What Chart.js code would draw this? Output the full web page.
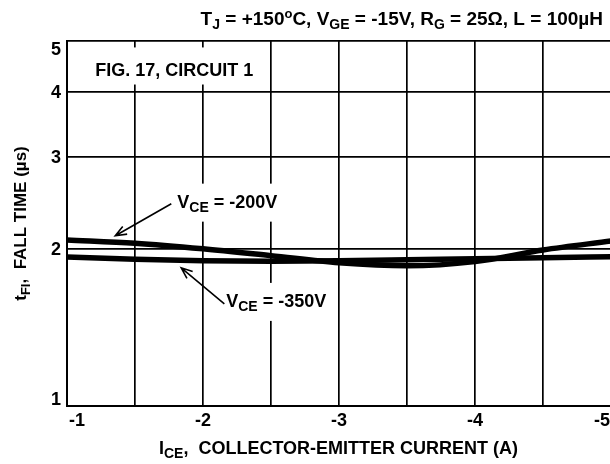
<!DOCTYPE html>
<html>
<head>
<meta charset="utf-8">
<script src="https://cdn.jsdelivr.net/npm/chart.js@4.4.0/dist/chart.umd.min.js"></script>
<style>
  html, body { margin: 0; padding: 0; background: #fff; overflow: hidden; }
  .wrap { position: relative; width: 614px; height: 464px; }
</style>
</head>
<body>
<div class="wrap"><canvas class="js-chart" width="614" height="464"></canvas></div>
<script>
const ctx = document.querySelector(".js-chart").getContext("2d");
const FONT = '"Liberation Sans", Arial, sans-serif';

// collector-emitter current (A) and fall time (us)
const currents = [-1, -1.5, -2, -2.5, -3, -3.5, -4, -4.5, -5];
const fallTime200V = [2.08, 2.05, 2.0, 1.94, 1.88, 1.855, 1.89, 1.99, 2.07];
const fallTime350V = [1.93, 1.91, 1.897, 1.893, 1.897, 1.905, 1.914, 1.922, 1.931];
const xTickValues = [-1, -2, -3, -4, -5];
const yTickValues = [1, 2, 3, 4, 5];

// annotation anchors, in data units
const figNote = { x: -1.208, y: 4.28, boxX: [-1.157, -2.436], boxY: [4.86, 4.127] };
const note200 = { x: -1.811, y: 2.398, tail: [-1.767, 2.44], tip: [-1.355, 2.118] };
const note350 = { x: -2.171, y: 1.548, tail: [-2.157, 1.569], tip: [-1.84, 1.839] };

function toPoints(values) {
  return currents.map((c, i) => ({ x: c, y: values[i] }));
}

// text made of pieces with their own size / baseline shift
function richWidth(c, parts) {
  let w = 0;
  parts.forEach((p) => {
    c.font = "bold " + p.s + "px " + FONT;
    w += c.measureText(p.t).width;
  });
  return w;
}

function drawRich(c, parts, x, y, align) {
  let cx = align === "right" ? x - richWidth(c, parts) : align === "center" ? x - richWidth(c, parts) / 2 : x;
  c.textAlign = "left";
  c.textBaseline = "alphabetic";
  parts.forEach((p) => {
    c.font = "bold " + p.s + "px " + FONT;
    c.fillText(p.t, cx, y + (p.dy || 0));
    cx += c.measureText(p.t).width;
  });
}

function arrow(c, x1, y1, x2, y2) {
  const a = Math.atan2(y2 - y1, x2 - x1);
  const len = 12;
  c.beginPath();
  c.moveTo(x1, y1);
  c.lineTo(x2, y2);
  c.moveTo(x2 - len * Math.cos(a - 0.38), y2 - len * Math.sin(a - 0.38));
  c.lineTo(x2, y2);
  c.lineTo(x2 - len * Math.cos(a + 0.38), y2 - len * Math.sin(a + 0.38));
  c.stroke();
}

const textPlugin = {
  id: "figText",
  afterDatasetsDraw(chart) {
    const c = chart.ctx;
    const { x, y } = chart.scales;
    c.save();

    // white boxes behind the notes cut the grid
    c.fillStyle = "#fff";
    c.fillRect(
      x.getPixelForValue(figNote.boxX[0]),
      y.getPixelForValue(figNote.boxY[0]),
      x.getPixelForValue(figNote.boxX[1]) - x.getPixelForValue(figNote.boxX[0]),
      y.getPixelForValue(figNote.boxY[1]) - y.getPixelForValue(figNote.boxY[0])
    );
    const parts200 = [{ t: "V", s: 18 }, { t: "CE", s: 14, dy: 4 }, { t: " = -200V", s: 18 }];
    const parts350 = [{ t: "V", s: 18 }, { t: "CE", s: 14, dy: 4 }, { t: " = -350V", s: 18 }];
    [[note200, parts200], [note350, parts350]].forEach(([n, parts]) => {
      const px = x.getPixelForValue(n.x);
      const py = y.getPixelForValue(n.y);
      const w = richWidth(c, parts);
      c.fillStyle = "#fff";
      c.fillRect(px - 8, py - 24, w + 16, 38);
    });

    c.fillStyle = "#000";
    c.strokeStyle = "#000";
    c.font = "bold 18px " + FONT;
    c.textAlign = "left";
    c.textBaseline = "alphabetic";
    c.fillText("FIG. 17, CIRCUIT 1", x.getPixelForValue(figNote.x), y.getPixelForValue(figNote.y));

    drawRich(c, parts200, x.getPixelForValue(note200.x), y.getPixelForValue(note200.y), "left");
    drawRich(c, parts350, x.getPixelForValue(note350.x), y.getPixelForValue(note350.y), "left");

    c.lineWidth = 1.6;
    [note200, note350].forEach((n) => {
      arrow(
        c,
        x.getPixelForValue(n.tail[0]), y.getPixelForValue(n.tail[1]),
        x.getPixelForValue(n.tip[0]), y.getPixelForValue(n.tip[1])
      );
    });

    // y tick labels
    c.font = "bold 18px " + FONT;
    c.textAlign = "right";
    c.textBaseline = "middle";
    yTickValues.forEach((v, i) => {
      let py = y.getPixelForValue(v);
      if (i === yTickValues.length - 1) py += 8;
      if (i === 0) py -= 7;
      c.fillText(String(v), x.left - 6, py + 1);
    });

    // x tick labels
    c.textBaseline = "alphabetic";
    xTickValues.forEach((v, i) => {
      const px = x.getPixelForValue(v);
      if (i === 0) {
        c.textAlign = "left";
        c.fillText(String(v), px + 2, y.bottom + 20);
      } else if (i === xTickValues.length - 1) {
        c.textAlign = "right";
        c.fillText(String(v), 610, y.bottom + 20);
      } else {
        c.textAlign = "center";
        c.fillText(String(v), px, y.bottom + 20);
      }
    });

    // titles
    drawRich(
      c,
      [
        { t: "T", s: 19 }, { t: "J", s: 14, dy: 4 },
        { t: " = +150", s: 19 }, { t: "o", s: 13, dy: -7 },
        { t: "C, V", s: 19 }, { t: "GE", s: 14, dy: 4 },
        { t: " = -15V, R", s: 19 }, { t: "G", s: 14, dy: 4 },
        { t: " = 25\u03A9, L = 100\u00B5H", s: 19 },
      ],
      603, 25, "right"
    );
    drawRich(
      c,
      [{ t: "I", s: 18 }, { t: "CE", s: 14, dy: 4 }, { t: ",  COLLECTOR-EMITTER CURRENT (A)", s: 18 }],
      (x.left + 610) / 2, 454, "center"
    );
    c.translate(26, (y.top + y.bottom) / 2);
    c.rotate(-Math.PI / 2);
    drawRich(
      c,
      [{ t: "t", s: 17 }, { t: "FI", s: 13, dy: 4 }, { t: ",  FALL TIME (\u00B5s)", s: 17 }],
      0, 0, "center"
    );
    c.restore();
  },
};

new Chart(ctx, {
  type: "line",
  data: {
    datasets: [
      {
        label: "VCE = -200V",
        data: toPoints(fallTime200V),
        borderColor: "#000",
        borderWidth: 5.5,
        pointRadius: 0,
        cubicInterpolationMode: "monotone",
      },
      {
        label: "VCE = -350V",
        data: toPoints(fallTime350V),
        borderColor: "#000",
        borderWidth: 5.5,
        pointRadius: 0,
        cubicInterpolationMode: "monotone",
      },
    ],
  },
  options: {
    responsive: false,
    animation: false,
    layout: { padding: { left: 67, top: 41, right: 3, bottom: 58 } },
    plugins: { legend: { display: false }, tooltip: { enabled: false } },
    scales: {
      x: {
        type: "linear",
        reverse: true,
        min: -5,
        max: -1,
        ticks: { display: false, stepSize: 0.5 },
        grid: { color: "#000", lineWidth: 1.7, drawTicks: false },
        border: { color: "#000", width: 2 },
      },
      y: {
        type: "logarithmic",
        min: 1,
        max: 5,
        afterBuildTicks(scale) {
          scale.ticks = yTickValues.map((v) => ({ value: v }));
        },
        ticks: { display: false },
        grid: { color: "#000", lineWidth: 1.7, drawTicks: false },
        border: { color: "#000", width: 2 },
      },
    },
  },
  plugins: [textPlugin],
});
</script>
</body>
</html>
